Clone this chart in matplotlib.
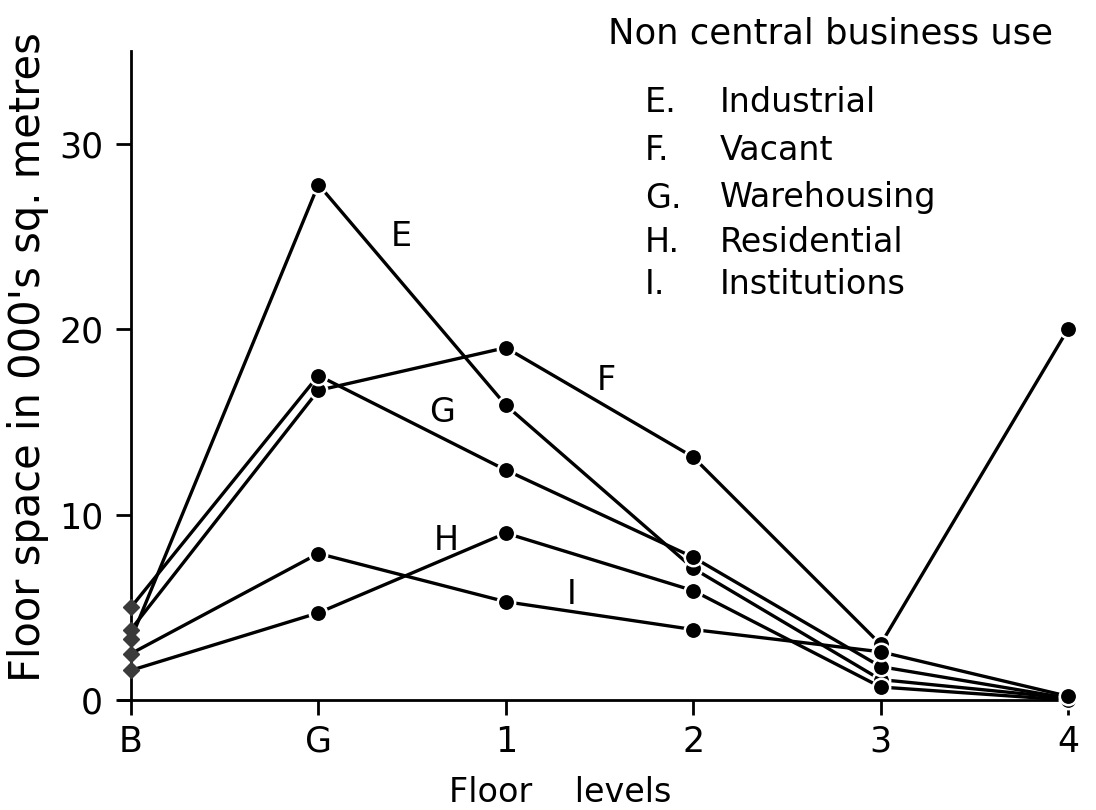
import numpy as np
import matplotlib
matplotlib.use("Agg")
import matplotlib.pyplot as plt

# floor space (000's sq. metres) by floor level, non central business use
levels = ['B', 'G', '1', '2', '3', '4']
industrial = [3.3, 27.8, 15.9, 7.1, 1.1, 0.1]      # E
vacant = [3.8, 16.7, 19.0, 13.1, 3.0, 20.0]        # F
warehousing = [5.0, 17.5, 12.4, 7.7, 1.8, 0.1]     # G
residential = [1.6, 4.7, 9.0, 5.9, 0.7, 0.0]       # H
institutions = [2.5, 7.9, 5.3, 3.8, 2.6, 0.2]      # I
yticks = [0, 10, 20, 30]

series = [('E', 'Industrial', industrial),
          ('F', 'Vacant', vacant),
          ('G', 'Warehousing', warehousing),
          ('H', 'Residential', residential),
          ('I', 'Institutions', institutions)]

plt.rc('font', family='DejaVu Sans')

W, H = 1096, 810
fig = plt.figure(figsize=(W / 100, H / 100), dpi=100)

# axes box in pixels: x from 119 to 1068, y from 700 (zero) up to 51
ax = fig.add_axes([119 / W, (H - 700) / H, 949 / W, 649 / H])

# y axis sits on the basement level; set this before styling the ticks
for side in ['top', 'right']:
    ax.spines[side].set_visible(False)
ax.spines['left'].set_position(('data', 0))
ax.spines['left'].set_linewidth(2)
ax.spines['bottom'].set_linewidth(2)

x = np.arange(len(levels))
for letter, name, vals in series:
    # basement values drawn as small diamonds, the rest as dots
    ax.plot(x, vals, color='black', lw=2.4, solid_capstyle='round',
            marker='o', ms=12.5, mfc='black', mec='white', mew=1.8,
            markevery=list(range(1, len(levels))), clip_on=False, zorder=3)
    ax.plot(x[:1], vals[:1], ls='none', marker='D', ms=8, color='#3a3a3a',
            clip_on=False, zorder=4)

ax.set_xlim(-0.064, 5.0)
ax.set_ylim(0, 35)
ax.set_xticks(x)
ax.set_xticklabels(levels)
ax.set_yticks(yticks)
ax.set_yticklabels([str(v) for v in yticks])
ax.tick_params(axis='both', direction='out', length=11, width=2,
               labelsize=25)
ax.tick_params(axis='x', pad=7)
ax.tick_params(axis='y', pad=9)

# series letters next to their lines
def px(xp, yp):
    return xp / W, 1 - yp / H

label_pos = {'E': (401, 237), 'F': (606, 380), 'G': (442, 412),
             'H': (446, 540), 'I': (572, 595)}
for letter, (lx, ly) in label_pos.items():
    fig.text(*px(lx, ly), letter, fontsize=24, ha='center', va='center')

# key
fig.text(*px(608, 33), 'Non central business use', fontsize=25.5,
         ha='left', va='center')
rows = [102, 151, 198, 242, 285]
for (letter, name, _), ry in zip(series, rows):
    fig.text(*px(645, ry), letter + '.', fontsize=24, ha='left', va='center')
    fig.text(*px(720, ry), name, fontsize=24, ha='left', va='center')

# axis titles
fig.text(*px(560, 793), 'Floor    levels', fontsize=24, ha='center', va='center')
fig.text(*px(28, 357), "Floor space in 000's sq. metres", fontsize=30,
         rotation=90, ha='center', va='center')

fig.savefig('out.png', dpi=100)
